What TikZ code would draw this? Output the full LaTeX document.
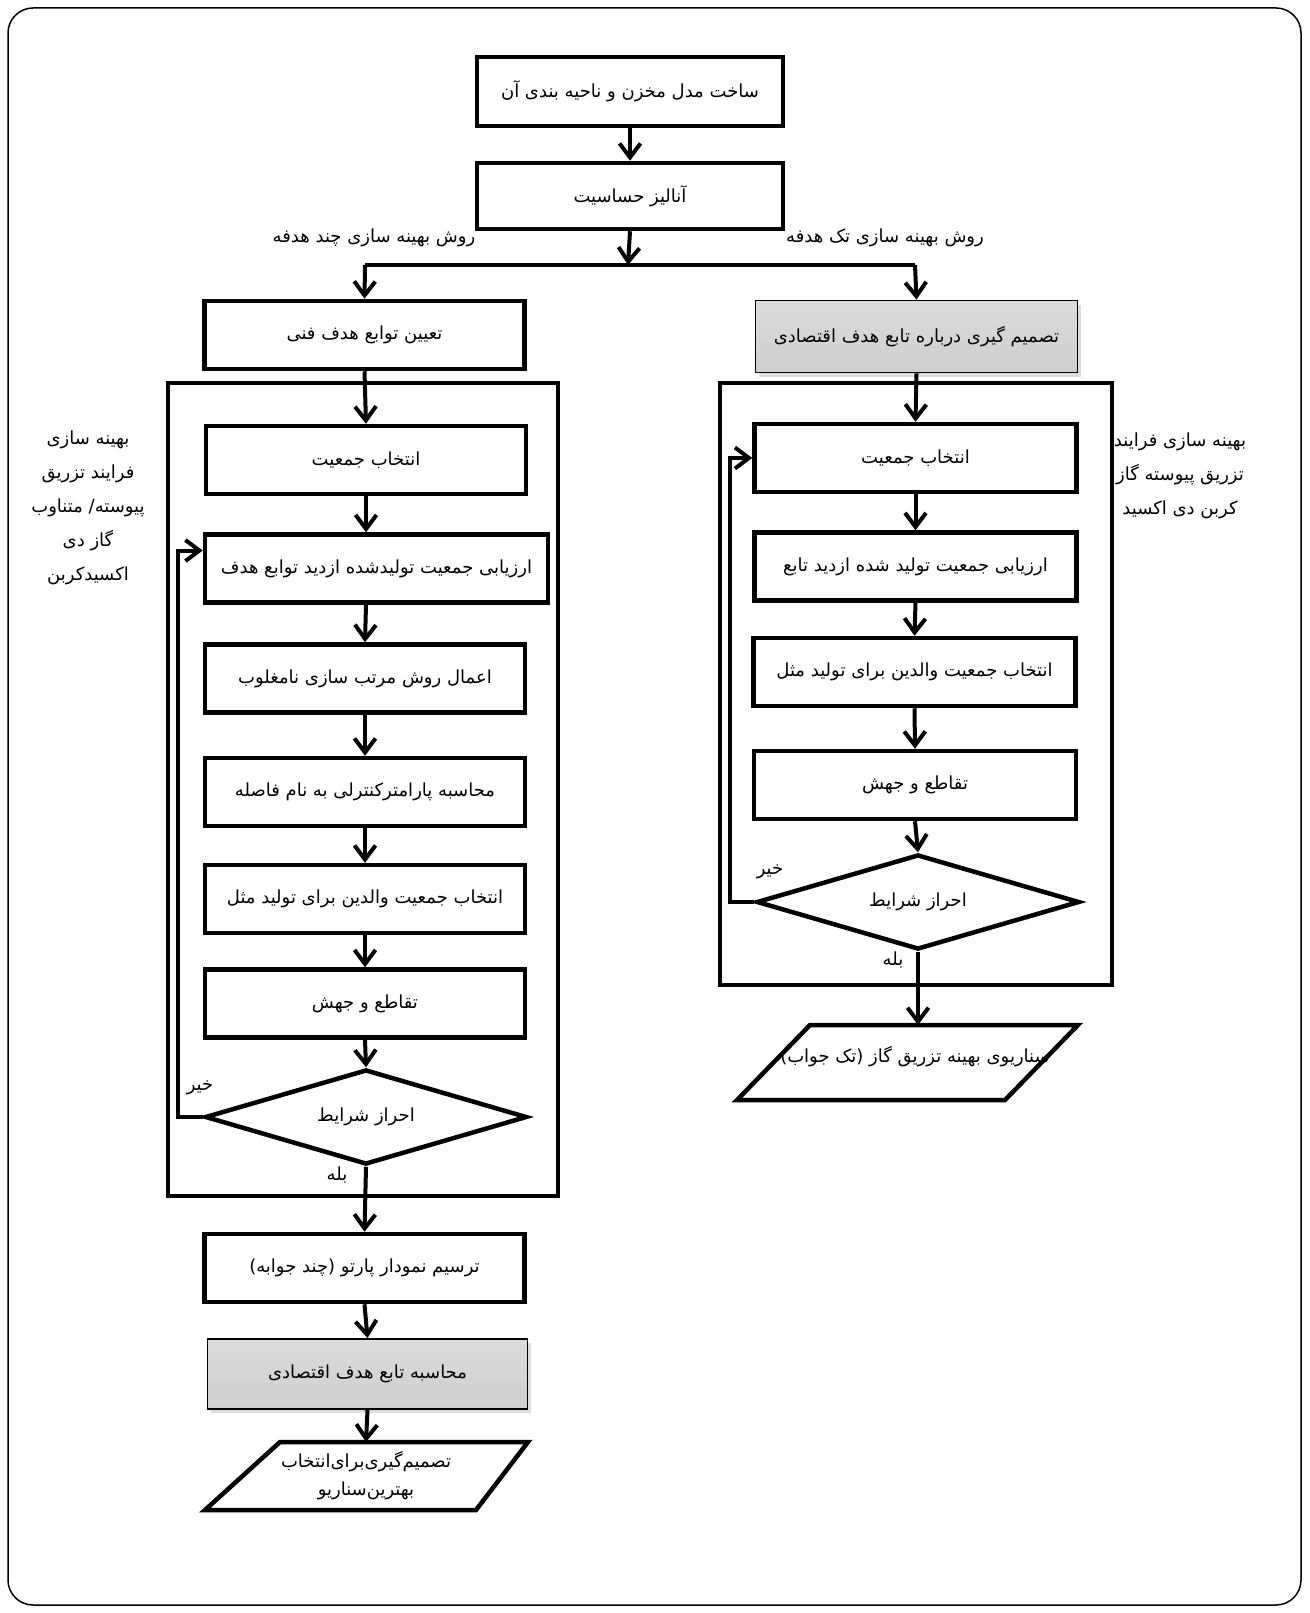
\documentclass[tikz,border=0pt]{standalone}
\usepackage{fontspec}
\newfontfamily\fa[Script=Arabic]{DejaVu Sans}
\TeXXeTstate=1
\usetikzlibrary{arrows.meta,shapes.geometric,shadows,calc}
\newcommand\rt[1]{\beginR #1\endR}
\newcommand\fs{\fa\fontsize{18}{24}\selectfont}
\begin{document}
\begin{tikzpicture}[x=1pt,y=-1pt,
  box/.style={draw, line width=4.5pt, minimum width=320pt, minimum height=68pt, inner sep=0pt, font=\fs},
  gbox/.style={draw, line width=1.8pt, minimum width=320pt, minimum height=70pt, inner sep=0pt, font=\fs,
     top color=gray!28, middle color=gray!8, bottom color=gray!38,
     drop shadow={shadow xshift=3pt, shadow yshift=-4pt, fill=gray!55}},
  cont/.style={draw, line width=3.5pt, inner sep=0pt},
  dia/.style={draw, diamond, aspect=3.4, line width=4.5pt, minimum width=322pt, minimum height=95pt, inner sep=0pt, font=\fs},
  para/.style={draw, line width=4.5pt, line join=miter},
  lbl/.style={font=\fs, inner sep=1pt},
  arr/.style={line width=4pt, -{Straight Barb[length=14pt,width=21pt]}},
  ln/.style={line width=4pt},
]
\useasboundingbox (0,0) rectangle (1309,1613);
\draw[line width=1.5pt, rounded corners=25pt] (8,8) rectangle (1301,1605);

% top
\node[box, minimum width=306pt, minimum height=69pt] (b1) at (630,91.5) {\rt{ساخت مدل مخزن و ناحیه بندی آن}};
\node[box, minimum width=306pt, minimum height=66pt] (b2) at (630,196) {\rt{آنالیز حساسیت}};
\draw[arr] (b1.south) -- (b2.north);
\coordinate (j) at (628,265);
\coordinate (jl) at (365,265);
\coordinate (jr) at (915,265);
\draw[arr] (b2.south) -- (j);
\draw[ln] (jl) -- (jr);
\node[lbl] (lm) at (374,238) {\rt{روش بهینه سازی چند هدفه}};
\node[lbl] (ls) at (885,238) {\rt{روش بهینه سازی تک هدفه}};

% containers
\node[cont, minimum width=390pt, minimum height=813pt] (LC) at (363,789.5) {};
\node[cont, minimum width=392pt, minimum height=602pt] (RC) at (916,684) {};

% left column
\node[box, minimum width=320pt] (L0) at (364.5,335) {\rt{تعیین توابع هدف فنی}};
\node[box] (L1) at (366,460) {\rt{انتخاب جمعیت}};
\node[box, minimum width=343pt] (L2) at (376.5,568.5) {\rt{ارزیابی جمعیت تولیدشده ازدید توابع هدف}};
\node[box] (L3) at (365,678.5) {\rt{اعمال روش مرتب سازی نامغلوب}};
\node[box] (L4) at (365,792) {\rt{محاسبه پارامترکنترلی به نام فاصله}};
\node[box] (L5) at (365,899) {\rt{انتخاب جمعیت والدین برای تولید مثل}};
\node[box] (L6) at (365,1003.5) {\rt{تقاطع و جهش}};
\node[dia] (LD) at (366,1117) {\rt{احراز شرایط}};
\node[box] (L7) at (364.5,1268) {\rt{ترسیم نمودار پارتو (چند جوابه)}};
\node[gbox] (L8) at (367.5,1374) {\rt{محاسبه تابع هدف اقتصادی}};
\coordinate (LPt) at (366,1442);
\draw[para] (280,1442) -- (528,1442) -- (476,1510) -- (205,1510) -- cycle;
\node[font=\fs, align=center, inner sep=0pt] (LP) at (366,1476) {\rt{تصمیم‌گیری‌برای‌انتخاب}\\[4pt]\rt{بهترین‌سناریو}};

\draw[arr] (jl) -- (L0.north);
\draw[arr] (L0.south) -- (L1.north);
\draw[arr] (L1.south) -- (L2.north -| L1.south);
\draw[arr] (L2.south -| L1.south) -- (L3.north);
\draw[arr] (L3.south) -- (L4.north);
\draw[arr] (L4.south) -- (L5.north);
\draw[arr] (L5.south) -- (L6.north);
\draw[arr] (L6.south) -- (LD.north);
\draw[arr] (LD.west) -- ++(-25,0) |- ([yshift=18pt]L2.west);
\draw[arr] (LD.south) -- (L7.north);
\draw[arr] (L7.south) -- (L8.north);
\draw[arr] (L8.south) -- (LPt);
\node[lbl] (ln1) at (200,1088) {\rt{خیر}};
\node[lbl] (ly1) at (337,1175) {\rt{بله}};

% right column
\node[gbox, minimum width=322pt, minimum height=72pt] (R0) at (916.5,336.5) {\rt{تصمیم گیری درباره تابع هدف اقتصادی}};
\node[box, minimum width=322pt] (R1) at (915.5,458) {\rt{انتخاب جمعیت}};
\node[box, minimum width=322pt] (R2) at (915.5,566.5) {\rt{ارزیابی جمعیت تولید شده ازدید تابع}};
\node[box, minimum width=322pt] (R3) at (914.5,672) {\rt{انتخاب جمعیت والدین برای تولید مثل}};
\node[box, minimum width=322pt] (R4) at (915,785) {\rt{تقاطع و جهش}};
\node[dia, minimum width=323pt] (RD) at (918,902) {\rt{احراز شرایط}};
\coordinate (RPt) at (918,1025);
\draw[para] (810,1025) -- (1078,1025) -- (1005,1100) -- (737,1100) -- cycle;
\node[lbl] (RP) at (915,1057) {\rt{سناریوی بهینه تزریق گاز (تک جواب)}};

\draw[arr] (jr) -- (R0.north);
\draw[arr] (R0.south) -- (R1.north);
\draw[arr] (R1.south) -- (R2.north);
\draw[arr] (R2.south) -- (R3.north);
\draw[arr] (R3.south) -- (R4.north);
\draw[arr] (R4.south) -- (RD.north);
\draw[arr] (RD.west) -- ++(-24,0) |- (R1.west);
\draw[arr] (RD.south) -- (RPt);
\node[lbl] (ln2) at (770,872) {\rt{خیر}};
\node[lbl] (ly2) at (893,960) {\rt{بله}};

% side labels
\node[font=\fs, align=center, inner sep=0pt] (sl) at (88,508)
  {\rt{بهینه سازی}\\[10pt]\rt{فرایند تزریق}\\[10pt]\rt{پیوسته/ متناوب}\\[10pt]\rt{گاز دی}\\[10pt]\rt{اکسیدکربن}};
\node[font=\fs, align=center, inner sep=0pt] (sr) at (1180,476)
  {\rt{بهینه سازی فرایند}\\[10pt]\rt{تزریق پیوسته گاز}\\[10pt]\rt{کربن دی اکسید}};
\end{tikzpicture}
\end{document}
